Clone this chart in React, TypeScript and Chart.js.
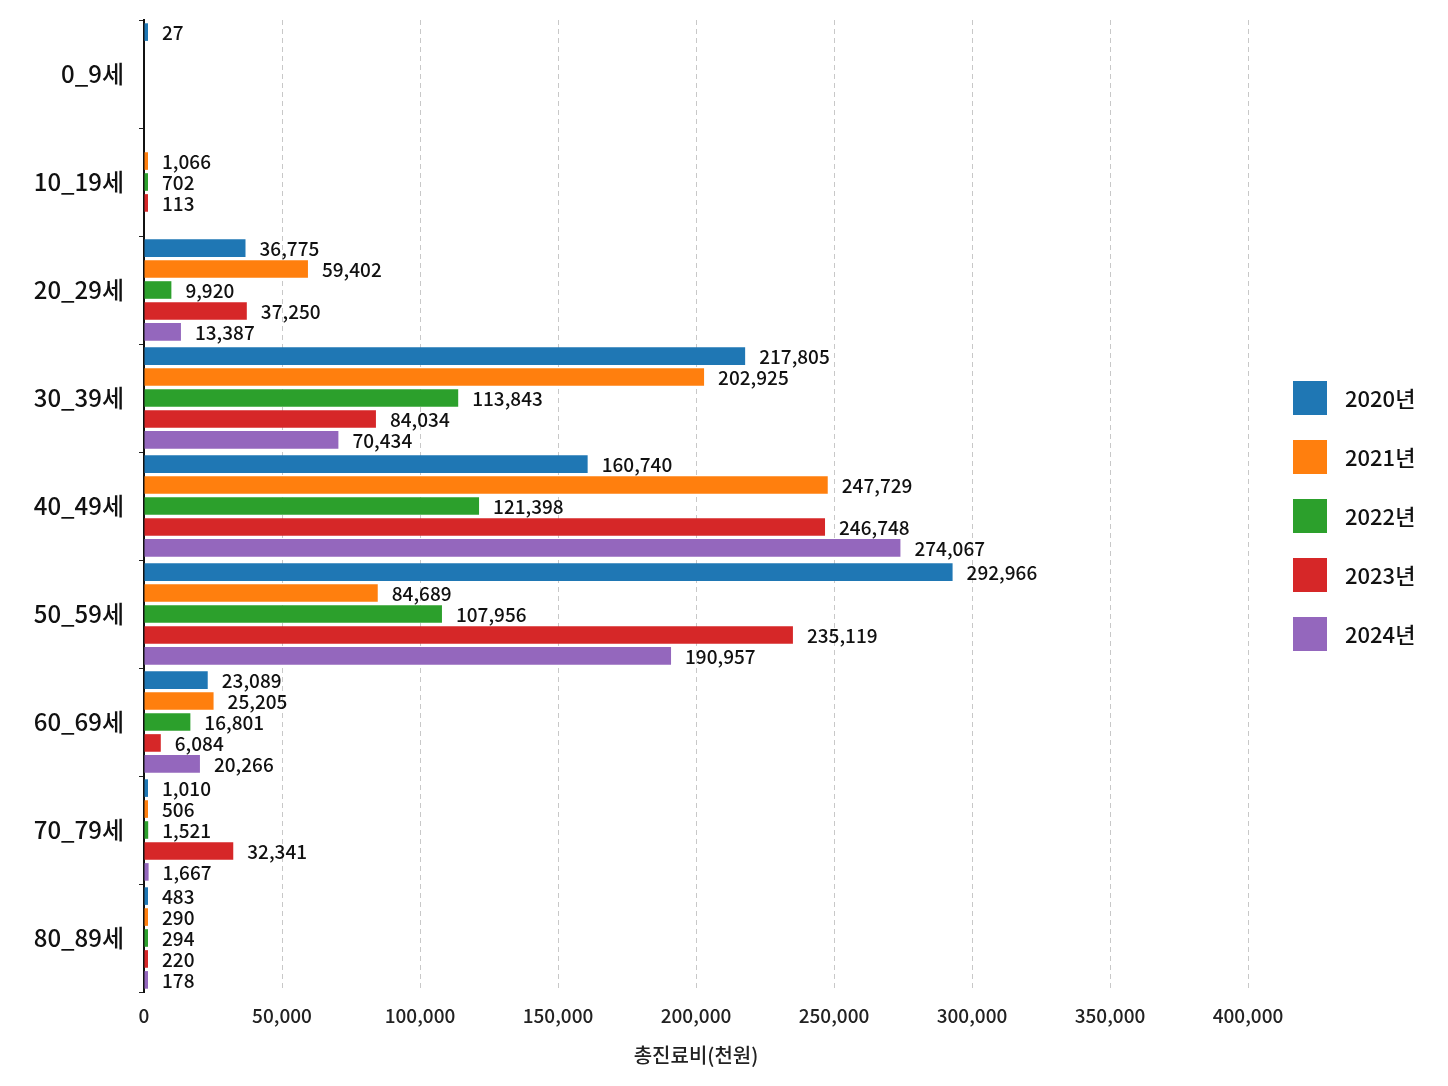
import React, { useEffect, useRef } from "react";
import { Chart, registerables } from "chart.js";

Chart.register(...registerables);

const categories = ["0_9세", "10_19세", "20_29세", "30_39세", "40_49세", "50_59세", "60_69세", "70_79세", "80_89세"];
const seriesNames = ["2020년", "2021년", "2022년", "2023년", "2024년"];
const colors = ["#1f77b4", "#ff7f0e", "#2ca02c", "#d62728", "#9467bd"];

const v2020 = [27, null, 36775, 217805, 160740, 292966, 23089, 1010, 483];
const v2021 = [null, 1066, 59402, 202925, 247729, 84689, 25205, 506, 290];
const v2022 = [null, 702, 9920, 113843, 121398, 107956, 16801, 1521, 294];
const v2023 = [null, 113, 37250, 84034, 246748, 235119, 6084, 32341, 220];
const v2024 = [null, null, 13387, 70434, 274067, 190957, 20266, 1667, 178];
const seriesValues = [v2020, v2021, v2022, v2023, v2024];

const xTicks = [0, 50000, 100000, 150000, 200000, 250000, 300000, 350000, 400000];
const xTitle = "총진료비(천원)";

const FONT = "'Noto Sans CJK KR', 'Noto Sans', sans-serif";

const valueLabels = {
  id: "valueLabels",
  afterDatasetsDraw(chart: any) {
    const ctx = chart.ctx;
    ctx.save();
    ctx.font = `500 19px ${FONT}`;
    ctx.fillStyle = "#111";
    ctx.textAlign = "left";
    ctx.textBaseline = "middle";
    chart.data.datasets.forEach((ds: any, di: number) => {
      const meta = chart.getDatasetMeta(di);
      meta.data.forEach((el: any, i: number) => {
        const v = ds.data[i];
        if (v === null || v === undefined) return;
        ctx.fillText(Number(v).toLocaleString("en-US"), el.x + 14, el.y + 1);
      });
    });
    ctx.restore();
  },
};

const sideLegend = {
  id: "sideLegend",
  afterDraw(chart: any) {
    const ctx = chart.ctx;
    const n = chart.data.datasets.length;
    const box = 34;
    const gap = 59;
    const x0 = chart.chartArea.right + 45;
    const cy = 508;
    const startY = cy - ((n - 1) * gap) / 2;
    ctx.save();
    ctx.font = `500 22px ${FONT}`;
    ctx.textAlign = "left";
    ctx.textBaseline = "middle";
    chart.data.datasets.forEach((ds: any, i: number) => {
      const y = startY + i * gap;
      ctx.fillStyle = ds.backgroundColor;
      ctx.fillRect(x0, y - box / 2, box, box);
      ctx.fillStyle = "#111";
      ctx.fillText(ds.label, x0 + box + 18, y + 1);
    });
    ctx.restore();
  },
};

export default function App() {
  const ref = useRef<HTMLCanvasElement | null>(null);

  useEffect(() => {
    if (!ref.current) return;
    const chart = new Chart(ref.current, {
      type: "bar",
      data: {
        labels: categories,
        datasets: seriesNames.map((name, i) => ({
          label: name,
          data: seriesValues[i],
          backgroundColor: colors[i],
          borderColor: colors[i],
          borderWidth: 0,
          categoryPercentage: 0.97,
          barPercentage: 0.84,
          minBarLength: 4,
        })),
      },
      options: {
        indexAxis: "y",
        animation: false,
        responsive: true,
        maintainAspectRatio: false,
        layout: { padding: { top: 12, right: 192, bottom: 0, left: 0 } },
        plugins: {
          legend: { display: false },
          tooltip: { enabled: false },
        },
        scales: {
          x: {
            min: 0,
            max: 400000,
            afterBuildTicks(scale: any) {
              scale.ticks = xTicks.map((v) => ({ value: v }));
            },
            afterFit(scale: any) {
              scale.height = 86;
            },
            ticks: {
              font: { family: FONT, size: 19, weight: "500" },
              color: "#222",
              padding: 12,
              maxRotation: 0,
              callback: (v: any) => Number(v).toLocaleString("en-US"),
            },
            grid: {
              color: (c: any) => (c.tick && c.tick.value === 0 ? "rgba(0,0,0,0)" : "#c8c8c8"),
              lineWidth: 1,
              drawTicks: false,
            },
            border: { display: false, dash: [5, 4] },
            title: {
              display: true,
              text: xTitle,
              font: { family: FONT, size: 20, weight: "500" },
              color: "#222",
              padding: { top: 0, bottom: 11 },
            },
          },
          y: {
            afterFit(scale: any) {
              scale.width = 136;
              scale.paddingTop = 0;
              scale.paddingBottom = 0;
            },
            ticks: {
              font: { family: FONT, size: 24, weight: "500" },
              color: "#111",
              padding: 15,
            },
            grid: {
              drawOnChartArea: false,
              drawTicks: true,
              tickLength: 5,
              color: "#222",
            },
            border: { display: true, color: "#111", width: 2 },
          },
        },
      },
      plugins: [valueLabels, sideLegend],
    } as any);
    return () => chart.destroy();
  }, []);

  return (
    <div style={{ width: 1432, height: 1070, position: "relative", background: "#fff" }}>
      <canvas ref={ref} />
    </div>
  );
}
